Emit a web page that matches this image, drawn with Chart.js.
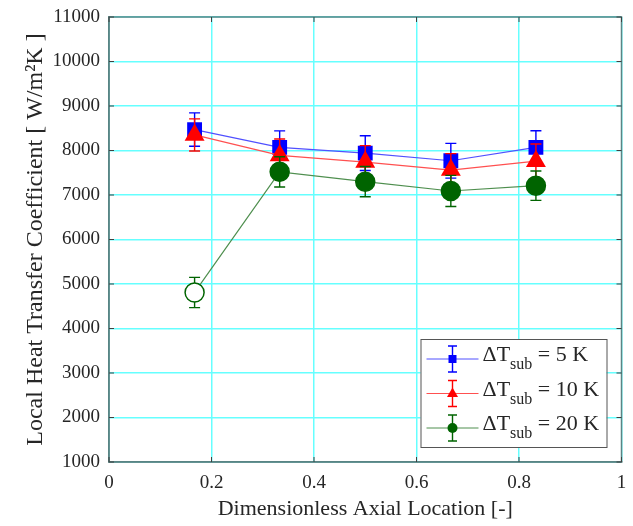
<!DOCTYPE html>
<html>
<head>
<meta charset="utf-8">
<script src="https://cdn.jsdelivr.net/npm/chart.js@4.4.1/dist/chart.umd.min.js"></script>
<style>
  body { margin: 0; background: #fff; }
</style>
</head>
<body>
<canvas id="plotCanvas" width="633" height="526"></canvas>
<script>
// dimensionless axial positions
let xPos = [0.167, 0.333, 0.5, 0.667, 0.833];

// heat transfer coefficient [W/m2K] and error (+/-)
let htc5 = [8470, 8070, 7940, 7770, 8070];
let err5 = [375, 370, 390, 390, 375];
let htc10 = [8350, 7890, 7740, 7560, 7760];
let err10 = [360, 370, 370, 370, 385];
let htc20 = [4810, 7520, 7300, 7090, 7210];
let err20 = [340, 340, 340, 350, 330];

let legendNames = ["5 K", "10 K", "20 K"];

const serif = '"Liberation Serif", "Times New Roman", serif';
const textColor = "#262626";
const gridColor = "#66ffff";
const axisColor = "#5a8585";

function pts(vals) {
  return vals.map((v, i) => ({ x: xPos[i], y: v }));
}

// error bars, drawn before each dataset so the markers sit on top
const errorBars = {
  id: "errorBars",
  beforeDatasetDraw(chart, args) {
    const ds = chart.data.datasets[args.index];
    const ys = chart.scales.y;
    const ctx = chart.ctx;
    ctx.save();
    ctx.strokeStyle = ds.errColor;
    ctx.lineWidth = 1.4;
    args.meta.data.forEach((p, i) => {
      const v = ds.data[i].y;
      const top = ys.getPixelForValue(v + ds.errs[i]);
      const bot = ys.getPixelForValue(v - ds.errs[i]);
      ctx.beginPath();
      ctx.moveTo(p.x, top);
      ctx.lineTo(p.x, bot);
      ctx.moveTo(p.x - 5.5, top);
      ctx.lineTo(p.x + 5.5, top);
      ctx.moveTo(p.x - 5.5, bot);
      ctx.lineTo(p.x + 5.5, bot);
      ctx.stroke();
    });
    ctx.restore();
  },
};

function drawMarker(ctx, style, x, y, color) {
  ctx.fillStyle = color;
  ctx.beginPath();
  if (style === "rect") {
    ctx.rect(x - 4, y - 4, 8, 8);
  } else if (style === "triangle") {
    ctx.moveTo(x, y - 6);
    ctx.lineTo(x + 5.5, y + 3.5);
    ctx.lineTo(x - 5.5, y + 3.5);
    ctx.closePath();
  } else {
    ctx.arc(x, y, 5, 0, Math.PI * 2);
  }
  ctx.fill();
}

// box frame, inward ticks and the legend with subscripts
const frameAndLegend = {
  id: "frameAndLegend",
  afterDraw(chart) {
    const ctx = chart.ctx;
    const a = chart.chartArea;
    ctx.save();
    ctx.strokeStyle = axisColor;
    ctx.lineWidth = 1.5;
    ctx.strokeRect(a.left, a.top, a.right - a.left, a.bottom - a.top);

    // inward ticks
    ctx.lineWidth = 1;
    ctx.strokeStyle = "#404040";
    ctx.beginPath();
    chart.scales.x.ticks.forEach((t) => {
      const px = chart.scales.x.getPixelForValue(t.value);
      ctx.moveTo(px, a.bottom);
      ctx.lineTo(px, a.bottom - 5);
      ctx.moveTo(px, a.top);
      ctx.lineTo(px, a.top + 5);
    });
    chart.scales.y.ticks.forEach((t) => {
      const py = chart.scales.y.getPixelForValue(t.value);
      ctx.moveTo(a.left, py);
      ctx.lineTo(a.left + 5, py);
      ctx.moveTo(a.right, py);
      ctx.lineTo(a.right - 5, py);
    });
    ctx.stroke();

    // legend
    const w = 186, h = 108;
    const bx = a.right - 15 - w;
    const by = a.bottom - 15 - h;
    ctx.fillStyle = "#fff";
    ctx.fillRect(bx, by, w, h);
    ctx.strokeStyle = "#555";
    ctx.lineWidth = 1;
    ctx.strokeRect(bx + 0.5, by + 0.5, w, h);

    chart.data.datasets.forEach((ds, i) => {
      const cy = by + 20 + i * 34.5;
      const mx = bx + 32;
      ctx.strokeStyle = ds.borderColor;
      ctx.lineWidth = 1;
      ctx.beginPath();
      ctx.moveTo(bx + 6, cy);
      ctx.lineTo(bx + 58, cy);
      ctx.stroke();
      ctx.strokeStyle = ds.errColor;
      ctx.lineWidth = 1.4;
      ctx.beginPath();
      ctx.moveTo(mx, cy - 13);
      ctx.lineTo(mx, cy + 13);
      ctx.moveTo(mx - 4.5, cy - 13);
      ctx.lineTo(mx + 4.5, cy - 13);
      ctx.moveTo(mx - 4.5, cy + 13);
      ctx.lineTo(mx + 4.5, cy + 13);
      ctx.stroke();
      drawMarker(ctx, ds.pointStyle, mx, cy, ds.errColor);

      const base = cy + 2;
      let tx = bx + 62;
      ctx.fillStyle = textColor;
      ctx.textBaseline = "alphabetic";
      ctx.font = "22px " + serif;
      ctx.fillText("\u0394T", tx, base);
      tx += ctx.measureText("\u0394T").width;
      ctx.font = "16px " + serif;
      ctx.fillText("sub", tx, base + 8);
      tx += ctx.measureText("sub").width;
      ctx.font = "22px " + serif;
      ctx.fillText(" = " + legendNames[i], tx, base);
    });
    ctx.restore();
  },
};

const datasets = [
  {
    label: "dT5",
    data: pts(htc5),
    errs: err5,
    errColor: "#0000ff",
    borderColor: "#5050ff",
    borderWidth: 1.2,
    pointStyle: "rect",
    pointRadius: 10.5,
    pointBackgroundColor: "#0000ff",
    pointBorderColor: "#0000ff",
    pointBorderWidth: 0,
    order: 3,
  },
  {
    label: "dT10",
    data: pts(htc10),
    errs: err10,
    errColor: "#ff0000",
    borderColor: "#ff5050",
    borderWidth: 1.2,
    pointStyle: "triangle",
    pointRadius: 11.5,
    pointBackgroundColor: "#ff0000",
    pointBorderColor: "#ff0000",
    pointBorderWidth: 0,
    order: 2,
  },
  {
    label: "dT20",
    data: pts(htc20),
    errs: err20,
    errColor: "#006400",
    borderColor: "#4f8f4f",
    borderWidth: 1.2,
    pointStyle: "circle",
    pointRadius: 9.5,
    pointBackgroundColor: ["#ffffff", "#006400", "#006400", "#006400", "#006400"],
    pointBorderColor: "#006400",
    pointBorderWidth: 1.5,
    order: 1,
  },
];

const ctx = document.getElementById("plotCanvas").getContext("2d");
const chart = new Chart(ctx, {
  type: "line",
  data: { datasets: datasets },
  plugins: [errorBars, frameAndLegend],
  options: {
    responsive: false,
    animation: false,
    devicePixelRatio: 1,
    layout: { padding: { top: 17, right: 10, left: 0, bottom: 0 } },
    plugins: {
      legend: { display: false },
      tooltip: { enabled: false },
    },
    scales: {
      x: {
        type: "linear",
        min: 0,
        max: 1,
        ticks: {
          stepSize: 0.2,
          padding: 10,
          color: textColor,
          font: { family: serif, size: 19 },
          callback: (v) => String(Number(v.toFixed(1))),
        },
        grid: { color: gridColor, lineWidth: 1.5, drawTicks: false },
        border: { color: axisColor, width: 1.5 },
        title: {
          display: true,
          text: "Dimensionless Axial Location [-]",
          color: textColor,
          font: { family: serif, size: 22 },
          padding: { top: 0, bottom: 4 },
        },
        afterFit(s) {
          s.height = 64;
          s.paddingLeft = 0;
          s.paddingRight = 0;
        },
      },
      y: {
        min: 1000,
        max: 11000,
        ticks: {
          stepSize: 1000,
          padding: 9,
          color: textColor,
          font: { family: serif, size: 19 },
          callback: (v) => String(v),
        },
        grid: { color: gridColor, lineWidth: 1.5, drawTicks: false },
        border: { color: axisColor, width: 1.5 },
        title: {
          display: true,
          text: "Local Heat Transfer Coefficient [ W/m\u00b2K ]",
          color: textColor,
          font: { family: serif, size: 24 },
          padding: { top: 21, bottom: 0 },
        },
        afterFit(s) {
          s.width = 109;
          s.paddingTop = 0;
          s.paddingBottom = 0;
        },
      },
    },
  },
});
</script>
</body>
</html>
